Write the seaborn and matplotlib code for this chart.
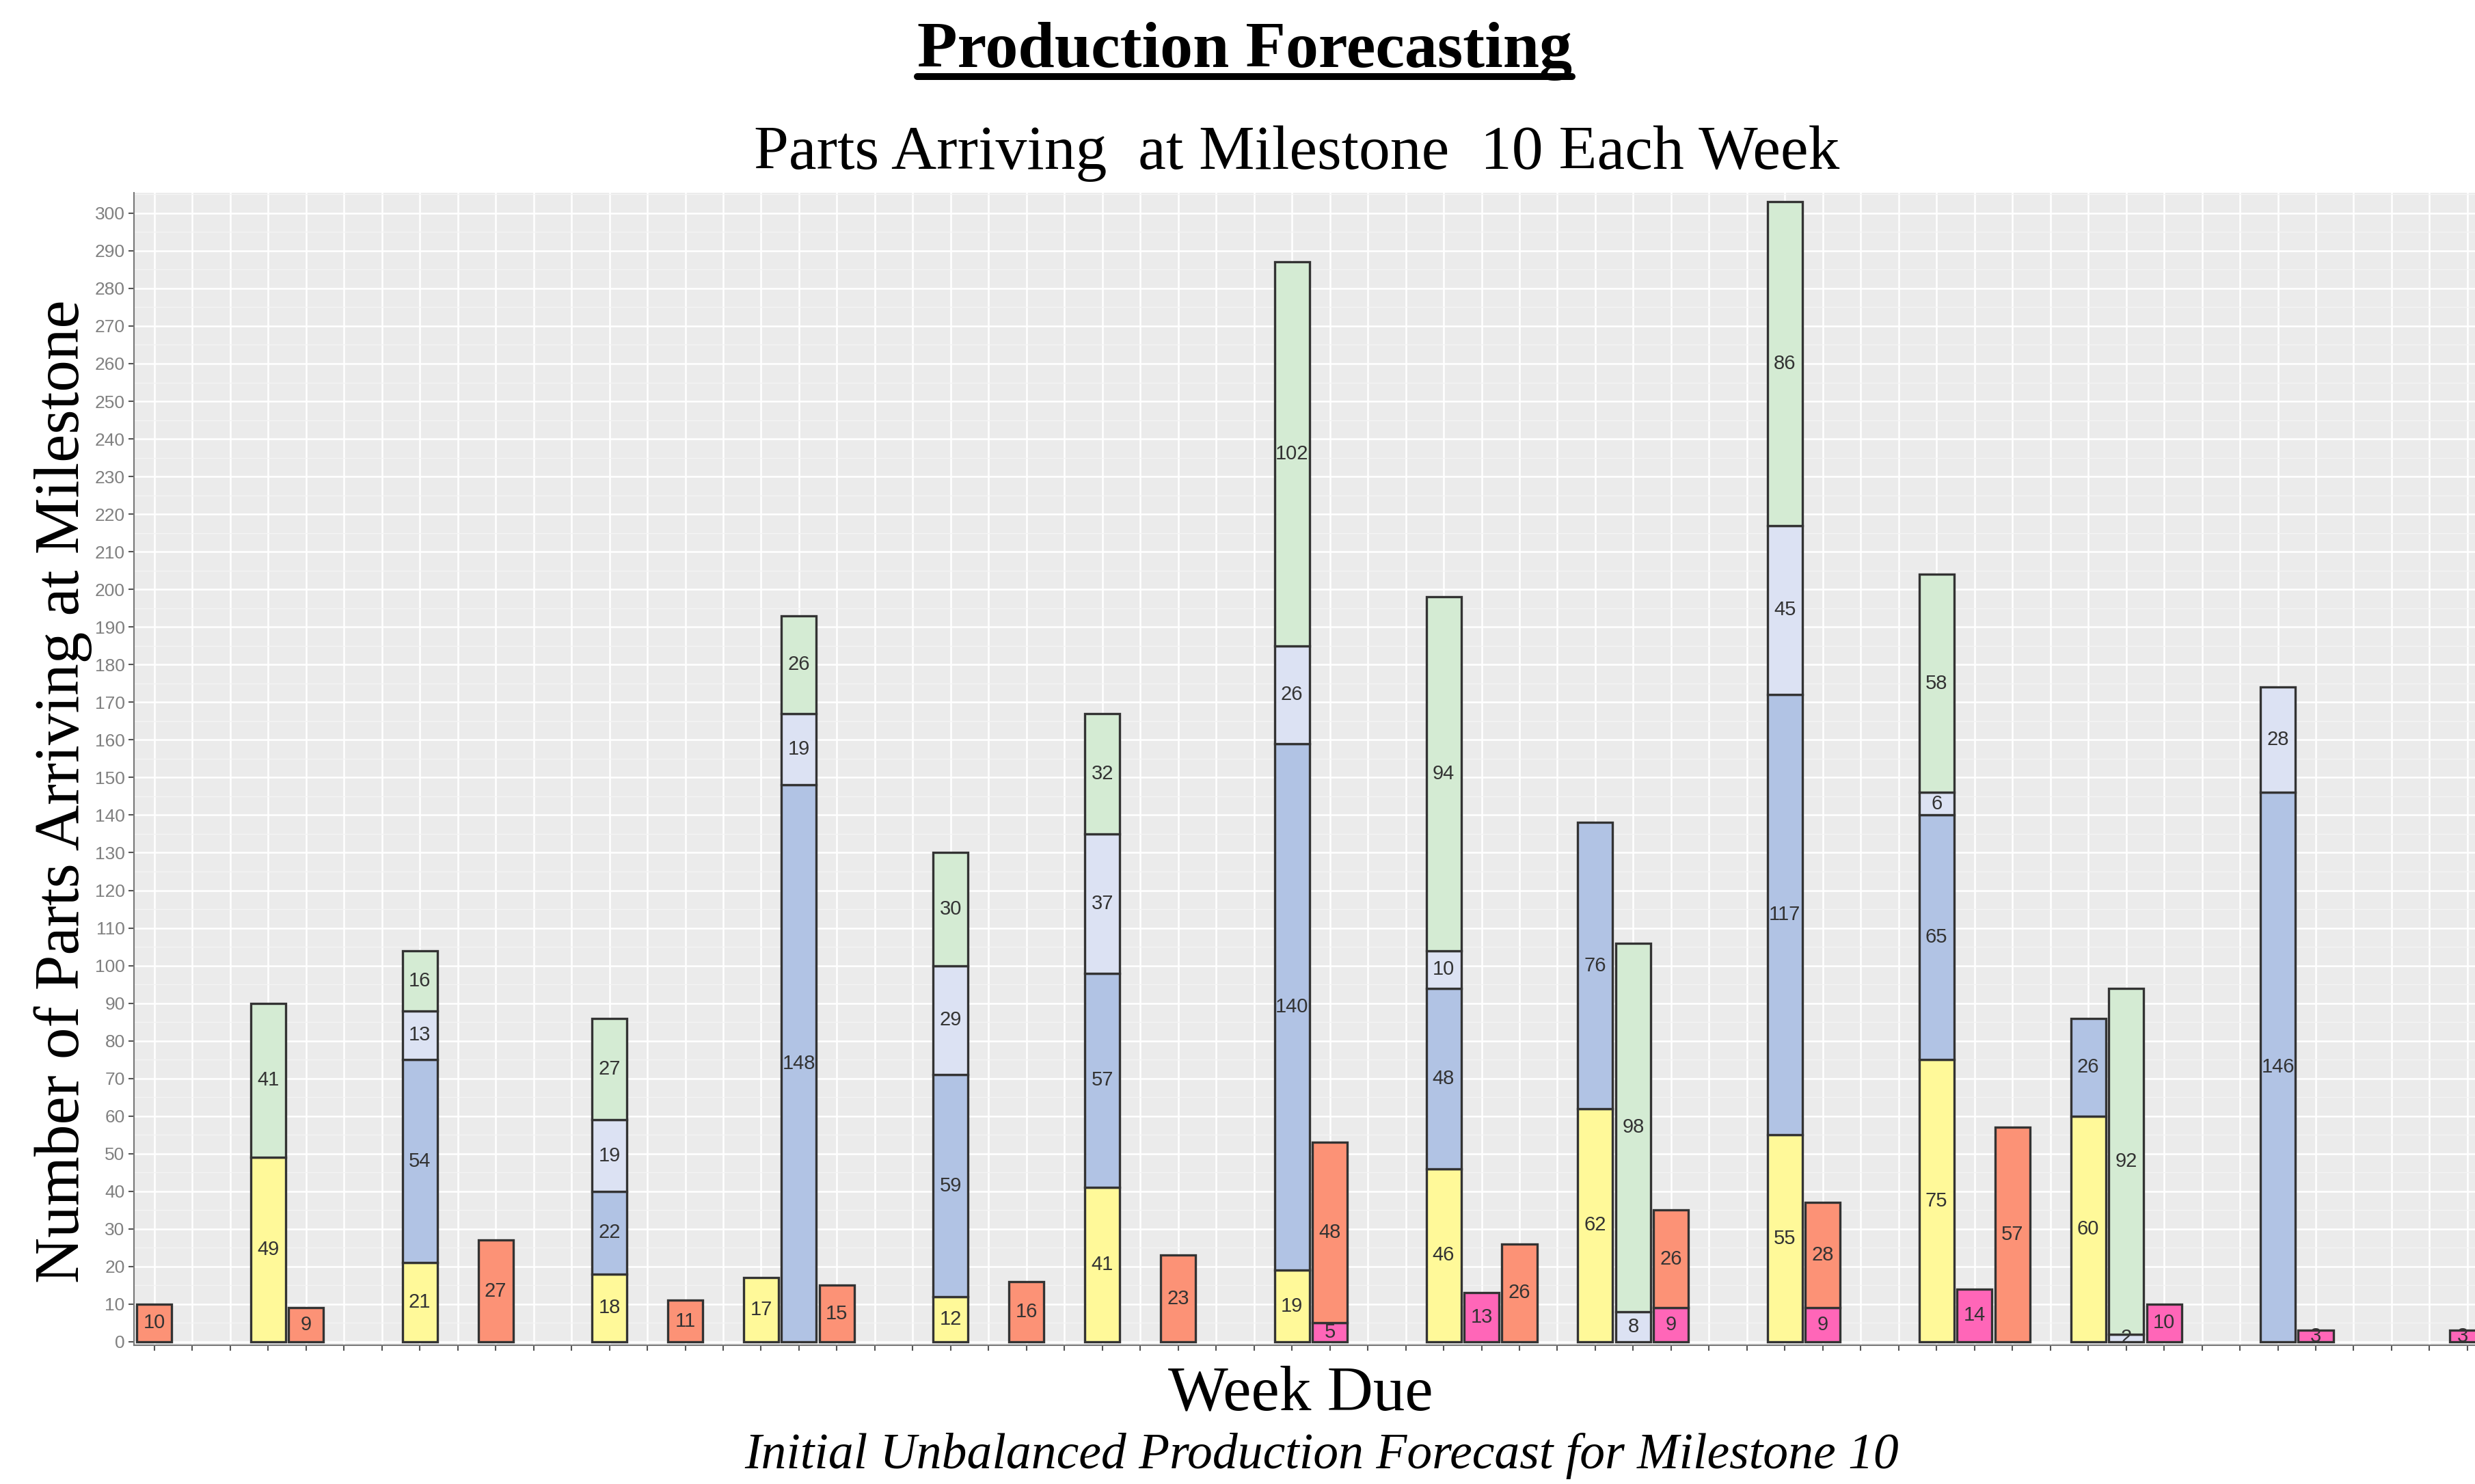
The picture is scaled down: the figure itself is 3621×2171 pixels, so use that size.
import numpy as np
import pandas as pd
import seaborn as sns
import matplotlib.pyplot as plt
from matplotlib.lines import Line2D
from matplotlib.ticker import MultipleLocator

# week slots along the x axis (62 slots, no labels shown)
n_slots = 62

slots_yellow = [3, 7, 12, 16, 21, 25, 30, 34, 38, 43, 47, 51]
yellow = [49, 21, 18, 17, 12, 41, 19, 46, 62, 55, 75, 60]

slots_blue = [7, 12, 17, 21, 25, 30, 34, 38, 43, 47, 51, 56]
blue = [54, 22, 148, 59, 57, 140, 48, 76, 117, 65, 26, 146]

slots_lightblue = [7, 12, 17, 21, 25, 30, 34, 39, 43, 47, 52, 56]
lightblue = [13, 19, 19, 29, 37, 26, 10, 8, 45, 6, 2, 28]

slots_green = [3, 7, 12, 17, 21, 25, 30, 34, 39, 43, 47, 52]
green = [41, 16, 27, 26, 30, 32, 102, 94, 98, 86, 58, 92]

slots_pink = [31, 35, 40, 44, 48, 53, 57, 61]
pink = [5, 13, 9, 9, 14, 10, 3, 3]

slots_red = [0, 4, 9, 14, 18, 23, 27, 31, 36, 40, 44, 49]
red = [10, 9, 27, 11, 15, 16, 23, 48, 26, 26, 28, 57]

# bottom -> top stacking order
layers = [
    (slots_pink, pink, "#FF66B8"),
    (slots_yellow, yellow, "#FFF999"),
    (slots_blue, blue, "#B1C3E4"),
    (slots_lightblue, lightblue, "#DCE2F3"),
    (slots_green, green, "#D4EBD3"),
    (slots_red, red, "#FC9276"),
]

sns.set_style("darkgrid", {"axes.facecolor": "#EBEBEB", "grid.color": "white",
                           "text.color": "black"})
plt.rcParams['font.family'] = ['Liberation Sans', 'DejaVu Sans']

fig = plt.figure(figsize=(36.21, 21.71), dpi=100)
ax = fig.add_axes([0.0541, 0.0933, 0.9459, 0.777])

base = np.zeros(n_slots)
for slots, vals, col in layers:
    df = pd.DataFrame({"slot": slots, "value": vals})
    sns.barplot(data=df, x="slot", y="value", order=list(range(n_slots)),
                bottom=base[slots], color=col, saturation=1, width=0.92,
                edgecolor="#333333", linewidth=2.4, errorbar=None, ax=ax)
    anns = ax.bar_label(ax.containers[-1], labels=[str(v) for v in vals],
                        label_type="center", fontsize=21, color="#333333")
    for a in anns:
        a.set_clip_on(True)
    full = np.zeros(n_slots)
    full[slots] = vals
    base += full

ax.set_xlim(-0.54, 61.2)
ax.set_ylim(-1, 305.5)
ax.set_xticks(range(n_slots))
ax.set_xticklabels([])
ax.yaxis.set_major_locator(MultipleLocator(10))
ax.yaxis.set_minor_locator(MultipleLocator(5))
ax.set_axisbelow(True)
ax.grid(which="major", axis="both", color="white", linewidth=1.8)
ax.grid(which="minor", axis="y", color="#F4F4F4", linewidth=0.9)
ax.tick_params(axis="both", which="major", length=6, width=1.5, color="#555555",
               labelsize=19, labelcolor="#808080", left=True, bottom=True)
ax.tick_params(axis="y", which="minor", length=0)
ax.set_xlabel("")
ax.set_ylabel("")
for side in ["top", "right"]:
    ax.spines[side].set_visible(False)
for side in ["left", "bottom"]:
    ax.spines[side].set_visible(True)
    ax.spines[side].set_color("#777777")
    ax.spines[side].set_linewidth(1.5)

serif = "Liberation Serif"
title = fig.text(0.503, 0.9549, "Production Forecasting", ha="center", va="baseline",
                 fontsize=69, fontweight="bold", family=serif, color="black")
fig.text(0.524, 0.8862, "Parts Arriving  at Milestone  10 Each Week", ha="center",
         va="baseline", fontsize=66, family=serif, color="black")
fig.text(0.5255, 0.0502, "Week Due", ha="center", va="baseline", fontsize=67,
         family=serif, color="black")
fig.text(0.534, 0.0106, "Initial Unbalanced Production Forecast for Milestone 10",
         ha="center", va="baseline", fontsize=53, style="italic", family=serif,
         color="black")
fig.text(0.0255, 0.4666, "Number of Parts Arriving at Milestone", rotation=90,
         ha="center", va="center", fontsize=67, family=serif, color="black")

# underline the main title
fig.canvas.draw()
bb = title.get_window_extent().transformed(fig.transFigure.inverted())
fig.add_artist(Line2D([bb.x0, bb.x1], [0.9484, 0.9484], transform=fig.transFigure,
                      color="black", linewidth=7.2))

fig.savefig("out.png", dpi=100, facecolor="white")
